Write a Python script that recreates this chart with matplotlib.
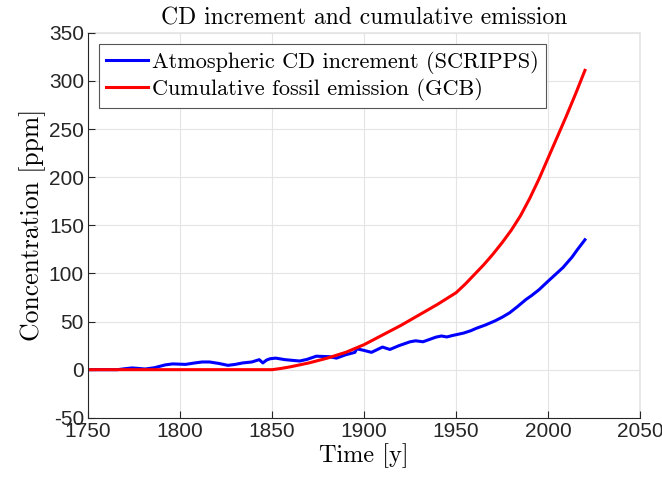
import numpy as np
import matplotlib
matplotlib.use("Agg")
import matplotlib.pyplot as plt

# Atmospheric CO2 increment (SCRIPPS)
scripps_year = [1750, 1760, 1766, 1770, 1774, 1778, 1781, 1786, 1792, 1796,
                1803, 1808, 1812, 1816, 1821, 1826, 1830, 1834, 1839, 1843,
                1845, 1847, 1849, 1852, 1857, 1865, 1869, 1874, 1881, 1885,
                1890, 1895, 1896, 1900, 1904, 1910, 1914, 1919, 1925, 1928,
                1932, 1939, 1942, 1945, 1948, 1954, 1958, 1961, 1966, 1971,
                1975, 1979, 1983, 1988, 1991, 1995, 2000, 2004, 2008, 2013,
                2016, 2020]
scripps_ppm = [0, 0, 0, 1, 1.8, 1.2, 0.7, 2, 5, 6,
               5.5, 7, 8, 8, 6.5, 4.5, 5.5, 7, 8, 10.4,
               7, 10, 11.4, 12, 10.4, 9, 10.7, 14, 13.5, 12,
               15.5, 18, 21.7, 20, 18, 23.5, 21, 25, 29, 30,
               29, 33.8, 35, 34, 35.5, 38, 40.5, 43, 46.5, 50.6,
               54.5, 59, 65, 73, 77, 83, 92, 99, 106, 117,
               125, 135]

# Cumulative fossil emission (GCB), ppm
gcb_year = [1750, 1800, 1850, 1855, 1860, 1865, 1870, 1875, 1880, 1885,
            1890, 1895, 1900, 1905, 1910, 1915, 1920, 1925, 1930, 1935,
            1940, 1945, 1950, 1955, 1960, 1965, 1970, 1975, 1980, 1985,
            1990, 1995, 2000, 2005, 2010, 2015, 2020]
gcb_ppm = [0, 0, 0, 1.3, 3, 5, 7, 9.5, 12, 15,
           18, 22, 26, 31, 36, 41, 46, 51.5, 57, 62.5,
           68, 74, 80, 89, 99, 109, 120, 132, 145, 160,
           178, 198, 220, 242, 264, 287, 311]

x_ticks = [1750, 1800, 1850, 1900, 1950, 2000, 2050]
y_ticks = [-50, 0, 50, 100, 150, 200, 250, 300, 350]

plt.rcParams['axes.unicode_minus'] = False
tick_font = 'Liberation Sans'
tex_font = 'cmr10'
dark = '#262626'
grid_grey = '#e4e4e4'

fig = plt.figure(figsize=(6.62, 4.83), dpi=100)
ax = fig.add_axes([0.133, 0.135, 0.834, 0.797])

ax.plot(scripps_year, scripps_ppm, color=(0, 0, 1), linewidth=2.2,
        label='Atmospheric CD increment (SCRIPPS)')
ax.plot(gcb_year, gcb_ppm, color=(1, 0, 0), linewidth=2.2,
        label='Cumulative fossil emission (GCB)')

ax.set_xlim(1750, 2050)
ax.set_ylim(-50, 350)
ax.set_xticks(x_ticks)
ax.set_yticks(y_ticks)
ax.set_xticklabels([str(v) for v in x_ticks], fontfamily=tick_font, fontsize=15, color=dark)
ax.set_yticklabels([str(v) for v in y_ticks], fontfamily=tick_font, fontsize=15, color=dark)
ax.tick_params(direction='in', length=5, width=0.8, color=dark, pad=3)

ax.grid(True, color=grid_grey, linewidth=0.8)
ax.set_axisbelow(True)
for side in ['top', 'right']:
    ax.spines[side].set_visible(False)
for side in ['left', 'bottom']:
    ax.spines[side].set_color(dark)
    ax.spines[side].set_linewidth(0.8)
# light box at top and right, as the grid edge
ax.axhline(350, color=grid_grey, linewidth=1.2, clip_on=False, zorder=0)
ax.axvline(2050, color=grid_grey, linewidth=1.2, clip_on=False, zorder=0)

ax.set_title('CD increment and cumulative emission', fontfamily=tex_font, fontsize=17, pad=6)
ax.set_xlabel('Time [y]', fontfamily=tex_font, fontsize=17.5, labelpad=2)
ax.set_ylabel('Concentration [ppm]', fontfamily=tex_font, fontsize=18.5, labelpad=2)

leg = ax.legend(loc='upper left', prop={'family': tex_font, 'size': 16},
                fancybox=False, framealpha=1, edgecolor='#555555',
                handlelength=1.9, handletextpad=0.2, borderpad=0.3,
                labelspacing=0.2, borderaxespad=0.5)
leg.get_frame().set_linewidth(0.8)

fig.savefig('out.png', dpi=100)
